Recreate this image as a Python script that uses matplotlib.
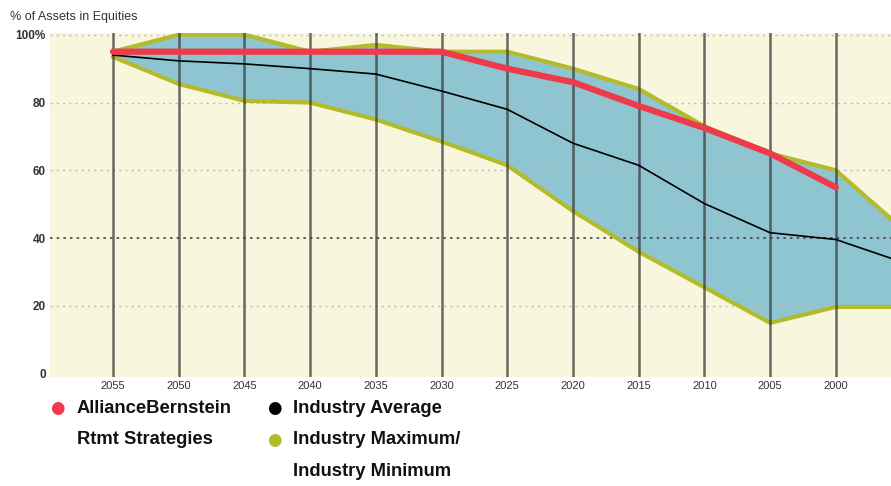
import numpy as np
import matplotlib.pyplot as plt

# ---- data ----
years = [2055, 2050, 2045, 2040, 2035, 2030, 2025, 2020, 2015, 2010, 2005, 2000, 1995]
ind_max = [95, 100, 100, 95, 97, 95, 95, 90, 84, 73, 65, 60, 43]
ind_min = [93.5, 85.5, 80.5, 80, 75, 68.5, 61.5, 48, 36, 25.5, 15, 19.7, 19.7]
ind_avg = [94, 92.3, 91.4, 90, 88.4, 83.4, 78, 68, 61.5, 50.2, 41.6, 39.6, 33]
ab_years = [2055, 2050, 2045, 2040, 2035, 2030, 2025, 2020, 2015, 2010, 2005, 2000]
ab_rtmt = [95, 95, 95, 95, 95, 95, 90, 86, 79, 72.5, 65, 55]
tick_years = [2055, 2050, 2045, 2040, 2035, 2030, 2025, 2020, 2015, 2010, 2005, 2000]
y_ticks = [0, 20, 40, 60, 80, 100]
y_labels = ['0', '20', '40', '60', '80', '100%']

font = ['Liberation Sans', 'DejaVu Sans']
cream = '#f8f6dc'
blue = '#8ec5d0'
olive = '#b3bb2a'
red = '#ee3b4b'

fig = plt.figure(figsize=(8.91, 4.86), dpi=100)
ax = fig.add_axes([0.056, 0.224, 0.944, 0.708])
ax.set_facecolor(cream)

ax.fill_between(years, ind_min, ind_max, color=blue, zorder=1, lw=0)
ax.plot(years, ind_max, color=olive, lw=3, zorder=3, solid_joinstyle='miter')
ax.plot(years, ind_min, color=olive, lw=3, zorder=3, solid_joinstyle='miter')

# grid lines
for v in [20, 60, 80, 100]:
    ax.axhline(v, color='#bbbbbb', lw=1, ls=(0, (1.5, 3)), zorder=2)
ax.axhline(40, color='#444444', lw=1.2, ls=(0, (1.5, 2.5)), zorder=2)
for yr in tick_years:
    ax.axvline(yr, color='#3a3a3a', lw=1.8, alpha=0.75, zorder=4)

ax.plot(years, ind_avg, color='black', lw=1.2, zorder=5)
ax.plot(ab_years, ab_rtmt, color=red, lw=4.5, zorder=6, solid_capstyle='round')

ax.set_xlim(2059.8, 1995.8)
ax.set_ylim(-1, 100.5)
ax.set_xticks(tick_years)
ax.set_xticklabels([str(y) for y in tick_years], fontsize=8, color='#333333', family=font)
ax.set_yticks(y_ticks)
ax.set_yticklabels(y_labels, fontsize=8.5, fontweight='bold', color='#333333', family=font)
ax.tick_params(length=0, pad=3)
ax.tick_params(axis='y', pad=3)
for s in ax.spines.values():
    s.set_visible(False)

fig.text(0.011, 0.965, '% of Assets in Equities', fontsize=9, color='#333333', family=font, va='center')

# legend
lg = dict(fontsize=13.2, fontweight='bold', family=font, va='center', color='#111111')
fig.text(0.064, 0.16, '\u25cf', fontsize=12, color=red, ha='center', va='center')
fig.text(0.086, 0.16, 'AllianceBernstein', **lg)
fig.text(0.086, 0.095, 'Rtmt Strategies', **lg)
fig.text(0.308, 0.16, '\u25cf', fontsize=12, color='black', ha='center', va='center')
fig.text(0.329, 0.16, 'Industry Average', **lg)
fig.text(0.308, 0.095, '\u25cf', fontsize=12, color=olive, ha='center', va='center')
fig.text(0.329, 0.095, 'Industry Maximum/', **lg)
fig.text(0.329, 0.03, 'Industry Minimum', **lg)

fig.savefig('out.png', dpi=100)
